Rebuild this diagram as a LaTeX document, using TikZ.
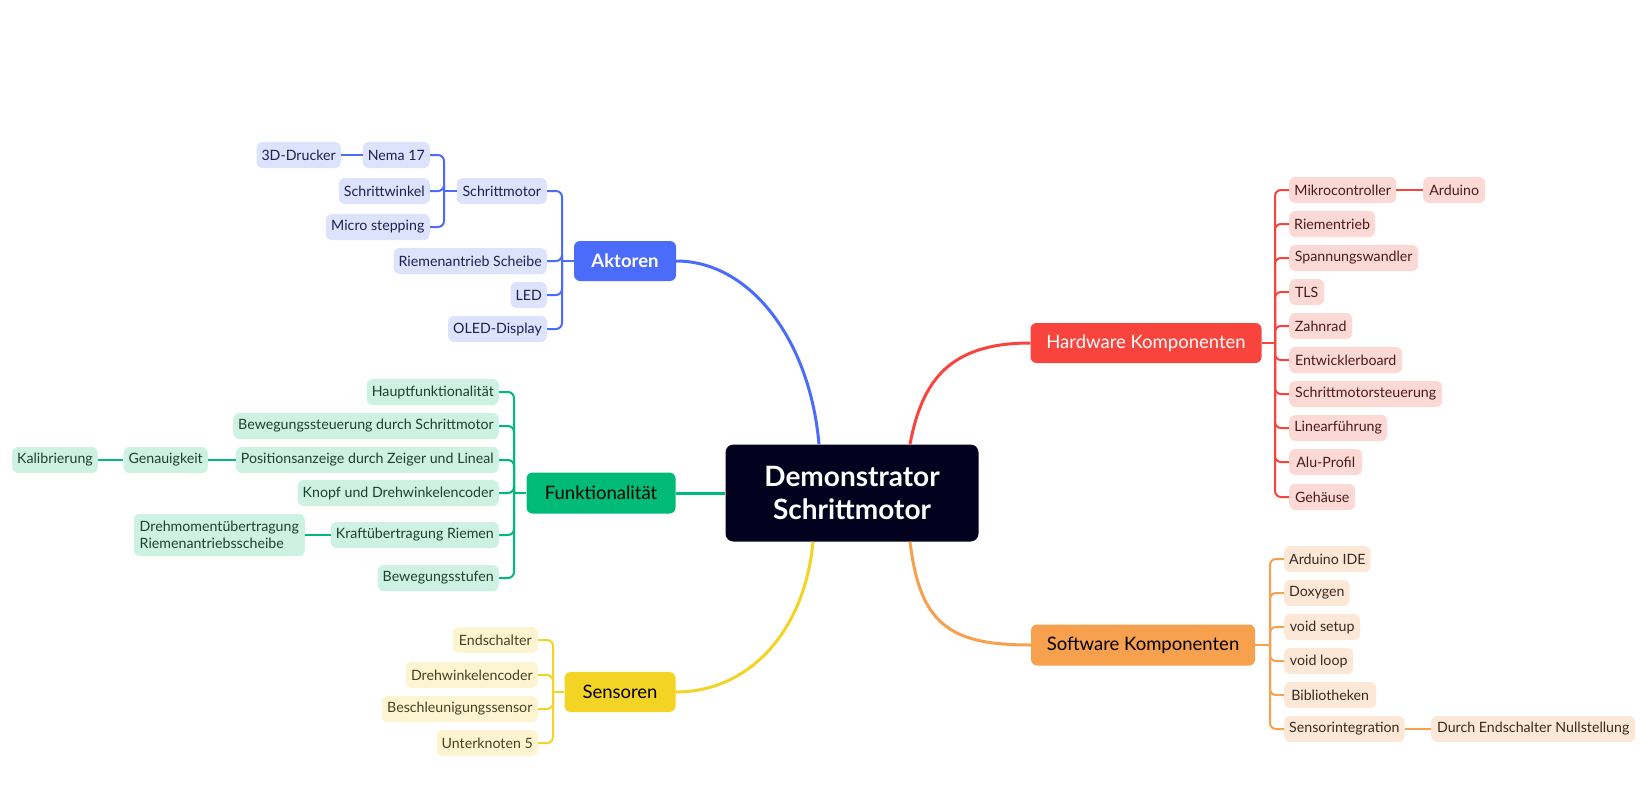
\documentclass[tikz,border=0pt]{standalone}
\usepackage{fontspec}
\setmainfont{Lato}
\usetikzlibrary{calc}
\definecolor{akB}{HTML}{4B6BFB}\definecolor{akL}{HTML}{DDE3FD}\definecolor{akT}{HTML}{1C2150}
\definecolor{fuB}{HTML}{00BB77}\definecolor{fuL}{HTML}{CDF1E3}\definecolor{fuT}{HTML}{1D4033}
\definecolor{seB}{HTML}{F3D323}\definecolor{seL}{HTML}{FDF5D2}\definecolor{seT}{HTML}{4A4020}
\definecolor{hwB}{HTML}{F8443D}\definecolor{hwL}{HTML}{FDD9D6}\definecolor{hwT}{HTML}{4A1B1B}
\definecolor{swB}{HTML}{F7A04D}\definecolor{swL}{HTML}{FDE8D8}\definecolor{swT}{HTML}{3A2A1E}
\definecolor{ctr}{HTML}{02021F}
\tikzset{
 kid/.style={rounded corners=6pt, minimum height=26pt, inner xsep=5pt, inner ysep=0pt, font=\fontsize{14.2}{16.5}\selectfont},
 lk/.style={kid, anchor=east},
 rk/.style={kid, anchor=west},
 ak/.style={fill=akL, text=akT},
 fu/.style={fill=fuL, text=fuT},
 se/.style={fill=seL, text=seT},
 hw/.style={fill=hwL, text=hwT},
 sw/.style={fill=swL, text=swT},
 branch/.style={rounded corners=6pt, minimum height=40pt, inner sep=0pt, font=\fontsize{18.5}{22}\selectfont},
 link/.style={line width=2pt, rounded corners=6pt},
 mainline/.style={line width=3pt},
}
\begin{document}
\begin{tikzpicture}[x=1pt,y=-1pt]
\useasboundingbox (0,0) rectangle (1640,792);
% central
\node[fill=ctr, text=white, rounded corners=8pt, minimum width=253pt, minimum height=97pt, align=center, font=\fontsize{28}{33}\selectfont\bfseries] (c) at (852,493) {Demonstrator\\Schrittmotor};
% branches
\node[branch, fill=akB, text=white, minimum width=102pt, font=\fontsize{18.5}{22}\selectfont\bfseries] (ak) at (625,261) {Aktoren};
\node[branch, fill=fuB, text=black, minimum width=149pt, minimum height=41pt] (fu) at (601,493) {Funktionalität};
\node[branch, fill=seB, text=black, minimum width=111pt] (se) at (620,692) {Sensoren};
\node[branch, fill=hwB, text=white, minimum width=231pt] (hw) at (1146,343) {Hardware Komponenten};
\node[branch, fill=swB, text=black, minimum width=224pt, minimum height=41pt] (sw) at (1143,645) {Software Komponenten};
% main curves
\draw[mainline, akB] (ak.east) .. controls (750,261) and (810,340) .. ([xshift=-33pt]c.north);
\draw[mainline, hwB] ([xshift=58pt]c.north) .. controls (922,380) and (950,343) .. (hw.west);
\draw[mainline, fuB] (fu.east) -- (c.west);
\draw[mainline, seB] (se.east) .. controls (750,692) and (805,630) .. ([xshift=-39pt]c.south);
\draw[mainline, swB] ([xshift=58pt]c.south) .. controls (920,625) and (950,645) .. (sw.west);
% Aktoren children
\node[lk, ak, minimum width=62pt] (nema) at (430,155) {Nema 17};
\node[lk, ak, minimum width=84pt] (druck) at (341,155) {3D-Drucker};
\node[lk, ak, minimum width=91pt] (swink) at (430,191) {Schrittwinkel};
\node[lk, ak, minimum width=104pt] (micro) at (430,227) {Micro stepping};
\node[lk, ak, minimum width=90pt] (smot) at (547,191) {Schrittmotor};
\node[lk, ak, minimum width=151pt] (riem) at (547,261) {Riemenantrieb Scheibe};
\node[lk, ak, minimum width=35pt] (led) at (547,295) {LED};
\node[lk, ak, minimum width=98pt] (oled) at (547,329) {OLED-Display};
\coordinate (jak) at (562,261);
\coordinate (jsm) at (444,191);
\foreach \n in {smot,riem,led,oled} \draw[link, akB] (\n.east) -| (jak);
\draw[link, akB] (jak) -- (ak.west);
\foreach \n in {nema,swink,micro} \draw[link, akB] (\n.east) -| (jsm);
\draw[link, akB] (jsm) -- (smot.west);
\draw[link, akB] (druck.east) -- (nema.west);
% Funktionalitaet children
\node[lk, fu, minimum width=129pt] (haupt) at (499,392) {Hauptfunktionalität};
\node[lk, fu, minimum width=263pt] (bew) at (499,426) {Bewegungssteuerung durch Schrittmotor};
\node[lk, fu, minimum width=263pt] (pos) at (499,460) {Positionsanzeige durch Zeiger und Lineal};
\node[lk, fu, minimum width=83pt] (gen) at (208,460) {Genauigkeit};
\node[lk, fu, minimum width=84pt] (kal) at (98,460) {Kalibrierung};
\node[lk, fu, minimum width=199pt] (knopf) at (499,493) {Knopf und Drehwinkelencoder};
\node[lk, fu, minimum width=167pt] (kraft) at (499,535) {Kraftübertragung Riemen};
\node[lk, fu, minimum width=171pt, minimum height=42pt, align=left] (dreh) at (305,535) {Drehmomentübertragung\\Riemenantriebsscheibe};
\node[lk, fu, minimum width=119pt] (stuf) at (499,578) {Bewegungsstufen};
\coordinate (jfu) at (514,493);
\foreach \n in {haupt,bew,pos,knopf,kraft,stuf} \draw[link, fuB] (\n.east) -| (jfu);
\draw[link, fuB] (jfu) -- (fu.west);
\draw[link, fuB] (gen.east) -- (pos.west);
\draw[link, fuB] (kal.east) -- (gen.west);
\draw[link, fuB] (dreh.east) -- (kraft.west);
% Sensoren children
\node[lk, se, minimum width=85pt] (ends) at (538,640) {Endschalter};
\node[lk, se, minimum width=130pt] (drw) at (538,675) {Drehwinkelencoder};
\node[lk, se, minimum width=156pt] (besch) at (538,709) {Beschleunigungssensor};
\node[lk, se, minimum width=99pt] (unter) at (538,743) {Unterknoten 5};
\coordinate (jse) at (553,692);
\foreach \n in {ends,drw,besch,unter} \draw[link, seB] (\n.east) -| (jse);
\draw[link, seB] (jse) -- (se.west);
% Hardware children
\node[rk, hw, minimum width=107pt] (mikro) at (1289,190) {Mikrocontroller};
\node[rk, hw, minimum width=62pt] (ardu) at (1423,190) {Arduino};
\node[rk, hw, minimum width=85pt] (rtrieb) at (1289,224) {Riementrieb};
\node[rk, hw, minimum width=129pt] (spann) at (1289,258) {Spannungswandler};
\node[rk, hw, minimum width=35pt] (tls) at (1289,292) {TLS};
\node[rk, hw, minimum width=63pt] (zahn) at (1289,326) {Zahnrad};
\node[rk, hw, minimum width=113pt] (entw) at (1289,360) {Entwicklerboard};
\node[rk, hw, minimum width=153pt] (sst) at (1289,394) {Schrittmotorsteuerung};
\node[rk, hw, minimum width=98pt] (lin) at (1289,428) {Linearführung};
\node[rk, hw, minimum width=73pt] (alu) at (1289,462) {Alu-Profil};
\node[rk, hw, minimum width=66pt] (geh) at (1289,497) {Gehäuse};
\coordinate (jhw) at (1275,343);
\foreach \n in {mikro,rtrieb,spann,tls,zahn,entw,sst,lin,alu,geh} \draw[link, hwB] (\n.west) -| (jhw);
\draw[link, hwB] (hw.east) -- (jhw);
\draw[link, hwB] (mikro.east) -- (ardu.west);
% Software children
\node[rk, sw, minimum width=85pt] (ide) at (1284,559) {Arduino IDE};
\node[rk, sw, minimum width=65pt] (doxy) at (1284,593) {Doxygen};
\node[rk, sw, minimum width=76pt] (setup) at (1284,627) {void setup};
\node[rk, sw, minimum width=69pt] (loop) at (1284,661) {void loop};
\node[rk, sw, minimum width=92pt] (bib) at (1284,695) {Bibliotheken};
\node[rk, sw, minimum width=120pt] (sint) at (1284,729) {Sensorintegration};
\node[rk, sw, minimum width=204pt] (durch) at (1431,729) {Durch Endschalter Nullstellung};
\coordinate (jsw) at (1270,645);
\foreach \n in {ide,doxy,setup,loop,bib,sint} \draw[link, swB] (\n.west) -| (jsw);
\draw[link, swB] (sw.east) -- (jsw);
\draw[link, swB] (sint.east) -- (durch.west);
\end{tikzpicture}
\end{document}
